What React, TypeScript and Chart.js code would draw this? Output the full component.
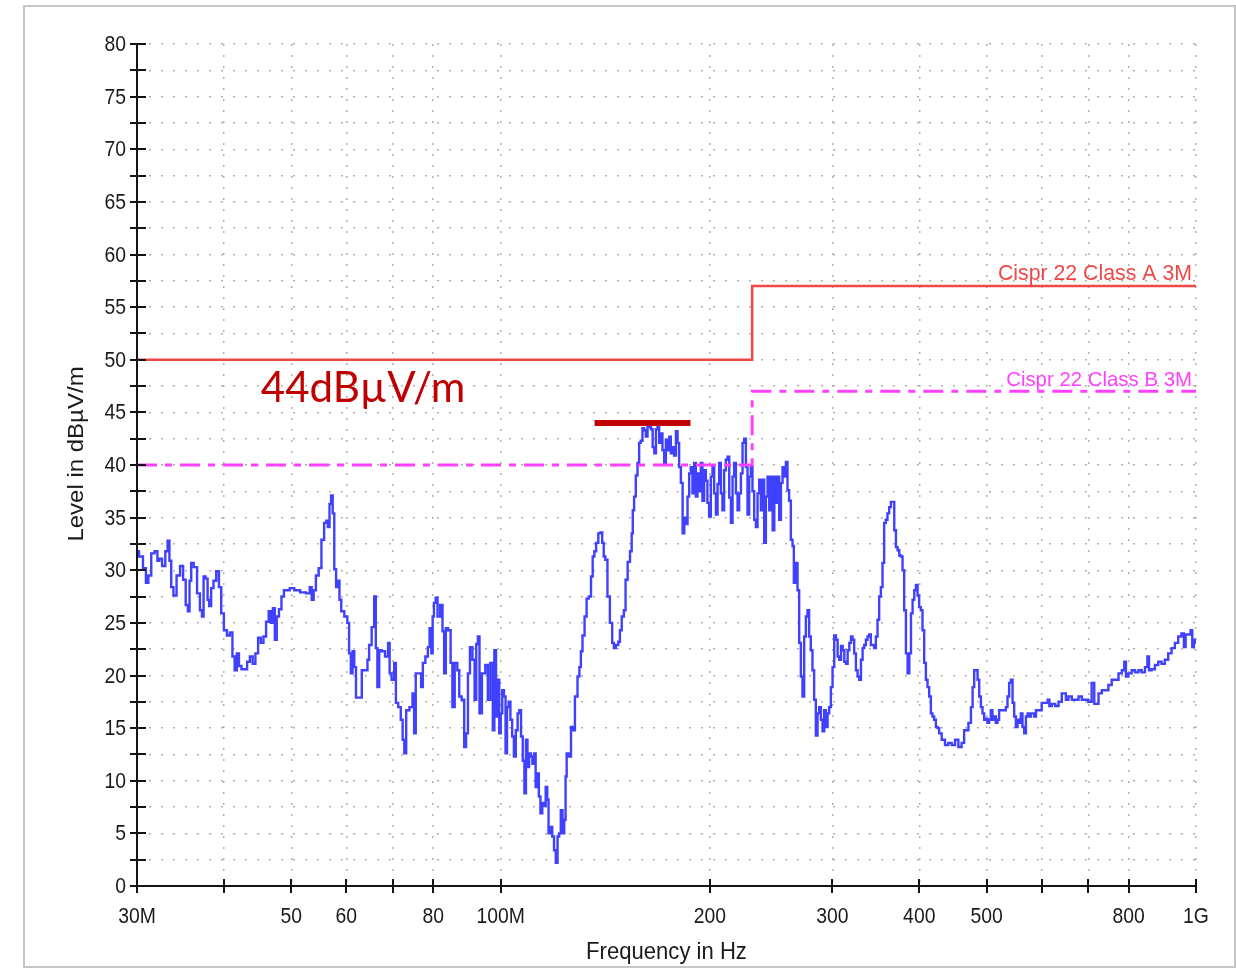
import React, { useEffect, useRef } from 'react';
import { Chart, registerables } from 'chart.js';

Chart.register(...registerables);

// Measured emission trace: frequency in MHz, level in dBµV/m
const TRACE_FREQ_MHZ = [
  30.0, 30.4, 30.8, 31.0, 31.3, 31.6, 32.0, 32.2, 32.4, 32.8,
  33.1, 33.3, 33.5, 33.7, 34.0, 34.4, 34.8, 35.1, 35.4, 35.6,
  35.8, 36.0, 36.4, 36.8, 37.1, 37.3, 37.5, 37.8, 38.0, 38.2,
  38.5, 38.8, 39.2, 39.5, 39.8, 40.2, 40.6, 41.0, 41.3, 41.6,
  41.9, 42.2, 42.6, 43.0, 43.4, 43.8, 44.2, 44.6, 45.0, 45.4,
  45.8, 46.2, 46.6, 46.9, 47.2, 47.5, 47.8, 48.2, 48.6, 49.0,
  49.5, 50.0, 51.0, 52.0, 53.0, 53.3, 53.7, 54.0, 54.5, 55.0,
  55.5, 56.0, 56.3, 56.6, 56.9, 57.2, 57.5, 57.8, 58.2, 58.5,
  58.8, 59.2, 60.0, 60.4, 60.7, 61.1, 61.4, 61.8, 62.1, 62.8,
  63.5, 64.2, 64.5, 64.9, 65.6, 66.0, 66.3, 66.7, 67.1, 67.8,
  68.6, 69.2, 69.3, 70.1, 70.5, 70.9, 71.6, 72.1, 72.5, 72.9,
  73.4, 74.5, 74.9, 75.3, 75.7, 76.6, 77.1, 77.5, 78.4, 78.8,
  79.3, 79.7, 80.0, 80.4, 80.9, 81.4, 82.3, 82.7, 83.2, 83.6,
  84.5, 85.0, 85.5, 86.3, 87.0, 87.4, 88.4, 88.9, 89.5, 90.0,
  90.7, 91.5, 92.0, 92.5, 93.0, 93.5, 94.5, 95.6, 96.1, 97.2,
  97.7, 98.2, 98.8, 99.3, 99.8, 100.3, 100.8, 101.4, 101.9, 102.4,
  103.0, 103.6, 104.2, 104.8, 105.5, 106.1, 106.7, 107.3, 107.9, 108.5,
  109.0, 109.6, 110.2, 110.8, 111.4, 112.0, 112.6, 113.2, 113.8, 114.4,
  115.2, 115.8, 116.4, 117.0, 117.4, 118.3, 119.0, 119.7, 120.4, 121.1,
  121.7, 122.4, 123.1, 123.8, 124.2, 124.7, 125.9, 126.6, 127.3, 128.5,
  129.5, 130.1, 130.8, 131.5, 132.6, 133.3, 134.5, 135.3, 136.0, 136.8,
  137.6, 138.8, 139.6, 140.4, 141.0, 141.9, 143.0, 144.2, 145.2, 145.8,
  147.1, 148.2, 148.7, 150.0, 150.8, 151.7, 152.9, 154.1, 154.6, 155.2,
  156.0, 156.9, 157.8, 158.6, 159.5, 160.4, 161.3, 162.2, 163.1, 164.0,
  165.0, 165.9, 166.8, 167.7, 168.6, 169.5, 170.4, 171.4, 172.4, 173.3,
  174.3, 175.2, 176.2, 177.1, 178.2, 179.2, 180.1, 181.1, 182.2, 183.2,
  184.2, 185.2, 186.2, 187.2, 188.2, 189.3, 190.3, 191.4, 192.4, 193.5,
  194.6, 195.6, 196.8, 197.8, 198.9, 200.0, 201.2, 202.2, 203.4, 204.6,
  205.6, 206.8, 207.9, 209.0, 210.2, 211.4, 212.6, 213.8, 215.0, 216.1,
  217.3, 218.6, 219.7, 221.0, 222.2, 223.4, 224.7, 225.9, 227.1, 228.4,
  229.6, 230.9, 232.2, 233.5, 234.8, 236.1, 237.4, 238.7, 240.0, 241.4,
  242.7, 244.1, 245.5, 246.8, 248.2, 249.5, 250.8, 252.3, 253.7, 255.0,
  256.5, 257.9, 259.2, 260.7, 262.2, 263.6, 264.5, 266.6, 268.0, 269.5,
  271.0, 272.5, 274.0, 275.5, 277.0, 278.5, 280.1, 281.6, 283.2, 284.8,
  286.4, 288.0, 289.6, 291.2, 292.8, 294.5, 296.0, 297.7, 299.3, 301.0,
  302.7, 304.4, 306.1, 307.8, 309.6, 311.2, 313.0, 314.7, 316.4, 318.2,
  319.9, 321.5, 323.4, 325.2, 327.0, 328.8, 330.7, 332.4, 334.3, 336.1,
  337.9, 339.8, 341.7, 343.5, 345.5, 347.4, 349.3, 351.2, 353.2, 355.1,
  357.1, 359.0, 361.0, 363.1, 365.2, 367.2, 369.2, 371.3, 373.3, 375.4,
  377.5, 379.4, 381.6, 383.8, 385.9, 388.1, 390.2, 392.3, 394.5, 396.7,
  398.8, 400.9, 403.2, 405.4, 407.7, 410.0, 412.2, 414.5, 416.8, 419.0,
  421.4, 423.8, 426.1, 428.5, 433.2, 438.0, 442.8, 447.8, 452.8, 457.8,
  462.6, 465.5, 468.1, 473.3, 476.0, 478.5, 481.1, 483.9, 486.4, 489.2,
  491.9, 494.5, 497.3, 500.0, 502.6, 505.5, 508.3, 511.1, 514.0, 516.9,
  519.6, 522.5, 525.4, 528.1, 531.2, 534.3, 537.1, 540.2, 543.3, 546.2,
  549.2, 552.3, 555.3, 558.4, 561.4, 564.5, 567.8, 571.0, 574.2, 577.4,
  580.6, 583.7, 587.1, 590.3, 596.7, 603.2, 610.3, 613.6, 617.1, 623.9,
  630.9, 637.8, 644.6, 648.1, 651.7, 659.1, 666.5, 674.1, 681.5, 688.9,
  696.5, 703.8, 711.9, 716.1, 720.1, 728.1, 736.0, 744.2, 752.1, 760.8,
  769.5, 778.0, 786.4, 790.8, 795.1, 803.8, 812.8, 822.0, 831.0, 840.0,
  849.1, 853.6, 858.3, 868.0, 877.7, 887.3, 897.0, 906.9, 917.2, 927.3,
  937.6, 947.8, 958.0, 963.5, 968.9, 979.6, 985.0, 990.3, 995.8, 1000.0,
];

const TRACE_LEVEL = [
  31.8, 31.3, 30.2, 28.8, 29.5, 31.6, 31.8, 30.9, 31.1, 30.4,
  31.8, 32.8, 30.9, 28.4, 27.6, 29.5, 30.4, 29.1, 26.7, 26.1,
  29.0, 30.7, 30.3, 27.8, 26.2, 25.6, 29.4, 29.2, 27.2, 26.6,
  28.3, 29.0, 29.9, 28.4, 25.9, 24.3, 23.8, 24.1, 21.8, 20.5,
  22.1, 20.9, 20.6, 20.6, 21.3, 21.8, 21.1, 22.1, 23.6, 23.1,
  23.7, 25.1, 26.1, 25.0, 26.4, 23.4, 25.6, 26.3, 27.5, 28.1,
  28.1, 28.3, 28.1, 27.9, 27.8, 28.4, 27.2, 28.1, 29.5, 30.2,
  32.9, 34.5, 34.7, 34.1, 36.3, 37.1, 35.4, 30.1, 28.4, 29.0,
  27.2, 26.1, 25.6, 25.0, 22.1, 20.2, 22.3, 20.8, 17.9, 17.9,
  20.5, 20.5, 21.5, 22.9, 24.6, 27.5, 22.6, 18.9, 22.4, 22.3,
  21.8, 23.1, 20.2, 19.6, 21.2, 17.4, 17.0, 15.8, 13.9, 12.6,
  16.7, 17.0, 18.3, 14.5, 20.2, 20.2, 18.9, 21.2, 21.8, 22.7,
  24.5, 22.1, 25.6, 26.9, 27.4, 25.6, 26.7, 24.2, 20.2, 24.5,
  24.3, 21.2, 17.0, 21.2, 20.5, 18.0, 17.7, 13.2, 14.5, 20.2,
  22.7, 21.5, 17.7, 23.0, 23.7, 16.4, 20.2, 21.0, 17.7, 21.2,
  14.8, 22.4, 16.1, 19.6, 14.5, 16.4, 18.6, 18.0, 12.6, 17.0,
  17.5, 15.8, 14.2, 12.3, 14.8, 16.4, 16.7, 14.2, 11.9, 8.8,
  13.9, 11.3, 12.6, 12.3, 11.6, 12.6, 9.4, 10.7, 8.5, 6.9,
  7.9, 7.6, 9.4, 8.2, 5.0, 5.6, 4.7, 3.4, 2.2, 4.7,
  5.0, 7.2, 5.0, 6.3, 10.4, 12.6, 12.3, 15.1, 14.8, 18.0,
  19.9, 20.8, 22.3, 23.8, 25.6, 27.3, 27.5, 29.4, 31.3, 31.8,
  32.6, 33.5, 33.6, 32.6, 31.3, 31.0, 27.5, 25.0, 23.1, 22.6,
  22.9, 23.2, 24.3, 25.6, 26.2, 29.1, 30.8, 31.8, 33.5, 35.7,
  37.0, 39.0, 40.2, 42.1, 42.3, 43.5, 43.3, 42.7, 43.6, 44.0,
  43.4, 41.7, 41.1, 43.4, 43.8, 42.1, 43.0, 41.4, 40.2, 42.4,
  41.4, 42.7, 41.1, 41.7, 40.9, 43.2, 42.1, 39.8, 38.3, 33.5,
  35.0, 34.4, 37.0, 39.2, 39.8, 37.3, 40.2, 37.0, 39.2, 37.5,
  40.2, 36.6, 39.5, 38.5, 36.4, 35.1, 38.9, 39.8, 37.3, 35.3,
  38.2, 40.2, 37.3, 35.7, 39.5, 40.5, 40.8, 36.9, 34.5, 38.9,
  40.2, 37.3, 35.7, 37.3, 39.2, 42.1, 42.5, 39.8, 35.3, 38.9,
  39.8, 37.5, 34.8, 34.1, 37.3, 38.6, 35.7, 38.6, 32.6, 37.0,
  38.9, 35.7, 38.9, 33.8, 38.9, 36.4, 38.9, 34.8, 38.3, 39.8,
  38.9, 40.3, 37.6, 36.6, 32.9, 32.3, 28.8, 30.7, 28.1, 23.1,
  19.9, 18.0, 23.7, 25.6, 26.2, 23.7, 22.4, 20.5, 17.7, 14.3,
  16.4, 17.0, 15.8, 14.7, 16.7, 15.1, 16.4, 17.0, 18.9, 20.8,
  23.8, 23.4, 21.8, 21.5, 22.8, 22.4, 21.3, 21.1, 22.4, 23.1,
  23.7, 23.4, 22.1, 20.5, 19.9, 19.6, 21.5, 22.6, 22.9, 23.4,
  23.7, 23.9, 22.9, 22.9, 22.6, 23.7, 25.3, 27.5, 28.4, 30.7,
  34.5, 34.8, 35.4, 36.0, 36.5, 36.5, 33.8, 32.2, 31.9, 31.4,
  31.3, 30.0, 26.2, 22.1, 20.2, 22.1, 25.9, 27.2, 28.1, 28.6,
  27.6, 26.5, 26.2, 24.3, 21.2, 19.6, 18.9, 18.0, 16.4, 16.1,
  15.8, 15.1, 15.0, 14.5, 13.9, 13.4, 13.6, 13.4, 13.9, 13.2,
  13.6, 14.8, 14.8, 15.5, 17.0, 18.9, 20.5, 20.5, 19.6, 18.0,
  17.0, 16.4, 15.8, 15.9, 15.5, 15.8, 16.7, 15.8, 16.1, 15.5,
  15.8, 16.7, 16.7, 16.7, 16.7, 17.0, 18.0, 19.3, 19.6, 17.4,
  16.1, 15.1, 15.8, 15.5, 16.4, 15.1, 14.5, 16.1, 16.4, 16.1,
  16.4, 16.4, 16.1, 16.7, 16.7, 17.4, 17.4, 17.7, 17.1, 17.3,
  17.1, 17.5, 18.3, 18.3, 17.7, 18.0, 17.7, 17.7, 18.0, 17.7,
  17.7, 17.5, 19.3, 17.3, 17.3, 18.3, 18.6, 18.6, 19.1, 19.6,
  19.6, 20.2, 20.5, 21.3, 19.9, 20.2, 20.5, 20.3, 20.5, 20.3,
  20.8, 21.8, 20.5, 20.6, 21.0, 21.3, 21.1, 21.5, 22.1, 22.6,
  23.1, 23.7, 24.0, 22.7, 23.9, 23.9, 24.3, 22.7, 23.4, 23.1,
];

// CISPR 22 radiated emission limits at 3 m
const CLASS_A_FREQ = [30, 230, 230, 1000];
const CLASS_A_LEVEL = [50, 50, 57, 57];
const CLASS_A_NAME = 'Cispr 22 Class A 3M';
const CLASS_B_FREQ = [30, 230, 230, 1000];
const CLASS_B_LEVEL = [40, 40, 47, 47];
const CLASS_B_NAME = 'Cispr 22 Class B 3M';

// Peak marker and its note
const MARKER_FREQ = [136.5, 187.5];
const MARKER_LEVEL = [44, 44];
const MARKER_TEXT = '44dBµV/m';
const MARKER_TEXT_FREQ = 45.2;
const MARKER_TEXT_LEVEL = 46;

// Axes
const X_MIN = 30;
const X_MAX = 1000;
const X_TICKS = [30, 40, 50, 60, 70, 80, 100, 200, 300, 400, 500, 600, 700, 800, 1000];
const X_TICK_LABELS = ['30M', '', '50', '60', '', '80', '100M', '200', '300', '400', '500', '', '', '800', '1G'];
const Y_MIN = 0;
const Y_MAX = 80;
const Y_STEP = 2.5;
const Y_LABEL_STEP = 5;
const X_TITLE = 'Frequency in Hz';
const Y_TITLE = 'Level in dBµV/m';

const TEXT_FAMILY = '"Liberation Sans", Arial, sans-serif';

function toPoints(xs: number[], ys: number[]) {
  return xs.map((x, i) => ({ x, y: ys[i] }));
}

function drawText(
  ctx: CanvasRenderingContext2D,
  text: string,
  x: number,
  y: number,
  align: CanvasTextAlign,
  baseline: CanvasTextBaseline,
  sx: number,
  rotate = 0,
) {
  ctx.save();
  ctx.translate(x, y);
  if (rotate) ctx.rotate(rotate);
  ctx.scale(rotate ? 1 : sx, rotate ? sx : 1);
  ctx.textAlign = align;
  ctx.textBaseline = baseline;
  ctx.fillText(text, 0, 0);
  ctx.restore();
}

const framePlugin = {
  id: 'emcFrame',
  beforeDraw(chart: any) {
    const { ctx, width, height } = chart;
    ctx.save();
    ctx.fillStyle = '#ffffff';
    ctx.fillRect(0, 0, width, height);
    ctx.strokeStyle = '#c6c6c6';
    ctx.lineWidth = 2;
    ctx.strokeRect(24, 6, width - 25, height - 8);
    ctx.restore();
  },
  afterDraw(chart: any) {
    const { ctx, chartArea, scales } = chart;
    const xs = scales.x;
    const ys = scales.y;
    const { left, right, top, bottom } = chartArea;

    ctx.save();
    // axis lines and tick marks
    ctx.strokeStyle = '#141414';
    ctx.lineWidth = 2;
    ctx.beginPath();
    ctx.moveTo(left, top);
    ctx.lineTo(left, bottom);
    ctx.lineTo(right, bottom);
    for (let v = Y_MIN; v <= Y_MAX + 1e-6; v += Y_STEP) {
      const y = Math.round(ys.getPixelForValue(v));
      ctx.moveTo(left - 7, y);
      ctx.lineTo(left + 9, y);
    }
    X_TICKS.forEach((f) => {
      const x = Math.round(xs.getPixelForValue(f));
      ctx.moveTo(x, bottom - 7);
      ctx.lineTo(x, bottom + 7);
    });
    ctx.stroke();

    // tick labels
    ctx.fillStyle = '#1a1a1a';
    ctx.font = `22px ${TEXT_FAMILY}`;
    for (let v = Y_MIN; v <= Y_MAX + 1e-6; v += Y_LABEL_STEP) {
      drawText(ctx, String(v), left - 11, ys.getPixelForValue(v) + 1, 'right', 'middle', 0.88);
    }
    X_TICKS.forEach((f, i) => {
      const label = X_TICK_LABELS[i];
      if (label) drawText(ctx, label, xs.getPixelForValue(f), bottom + 31, 'center', 'middle', 0.88);
    });

    // axis titles
    ctx.font = `24px ${TEXT_FAMILY}`;
    drawText(ctx, X_TITLE, (left + right) / 2, bottom + 66, 'center', 'middle', 0.92);
    drawText(ctx, Y_TITLE, 83, 454, 'center', 'alphabetic', 0.9, -Math.PI / 2);

    // limit line names
    ctx.fillStyle = '#f04848';
    ctx.font = `21.3px ${TEXT_FAMILY}`;
    drawText(ctx, CLASS_A_NAME, xs.getPixelForValue(X_MAX) - 4, ys.getPixelForValue(57) - 6, 'right', 'alphabetic', 1);
    ctx.fillStyle = '#ff40ff';
    ctx.font = `20.4px ${TEXT_FAMILY}`;
    drawText(ctx, CLASS_B_NAME, xs.getPixelForValue(X_MAX) - 4, ys.getPixelForValue(47) - 5, 'right', 'alphabetic', 1);

    // marker note
    ctx.font = '42px Lato, "Open Sans", sans-serif';
    ctx.fillStyle = '#c00000';
    drawText(
      ctx,
      MARKER_TEXT,
      xs.getPixelForValue(MARKER_TEXT_FREQ),
      ys.getPixelForValue(MARKER_TEXT_LEVEL),
      'left',
      'alphabetic',
      1,
    );
    ctx.restore();
  },
};

export default function App() {
  const canvasRef = useRef<HTMLCanvasElement>(null);

  useEffect(() => {
    const canvas = canvasRef.current;
    if (!canvas) return;
    const gridColor = '#b0b0b0';
    const chart = new Chart(canvas, {
      type: 'line',
      data: {
        datasets: [
          {
            label: 'marker',
            data: toPoints(MARKER_FREQ, MARKER_LEVEL),
            borderColor: '#c00000',
            borderWidth: 6,
            borderCapStyle: 'butt',
            pointRadius: 0,
          },
          {
            label: CLASS_A_NAME,
            data: toPoints(CLASS_A_FREQ, CLASS_A_LEVEL),
            borderColor: '#f04646',
            borderWidth: 2.5,
            pointRadius: 0,
            borderJoinStyle: 'miter',
          },
          {
            label: CLASS_B_NAME,
            data: toPoints(CLASS_B_FREQ, CLASS_B_LEVEL),
            borderColor: '#ff40ff',
            borderWidth: 3,
            borderDash: [20, 8, 7, 8],
            pointRadius: 0,
            borderJoinStyle: 'miter',
          },
          {
            label: 'Level',
            data: toPoints(TRACE_FREQ_MHZ, TRACE_LEVEL),
            borderColor: '#4040ff',
            borderWidth: 2.4,
            pointRadius: 0,
            stepped: 'middle',
          },
        ],
      },
      options: {
        animation: false,
        responsive: false,
        maintainAspectRatio: false,
        devicePixelRatio: 1,
        layout: { padding: { left: 137, right: 40, top: 44, bottom: 83 } },
        plugins: { legend: { display: false }, tooltip: { enabled: false } },
        scales: {
          x: {
            type: 'logarithmic',
            min: X_MIN,
            max: X_MAX,
            afterBuildTicks: (s: any) => {
              s.ticks = X_TICKS.map((value) => ({ value }));
            },
            afterFit: (s: any) => {
              s.height = 0;
            },
            ticks: { display: false },
            grid: { color: gridColor, lineWidth: 1.5, drawTicks: false },
            border: { display: false, dash: [2, 9] },
          },
          y: {
            type: 'linear',
            min: Y_MIN,
            max: Y_MAX,
            afterFit: (s: any) => {
              s.width = 0;
            },
            ticks: { display: false, stepSize: Y_STEP },
            grid: { color: gridColor, lineWidth: 1.5, drawTicks: false },
            border: { display: false, dash: [2, 10] },
          },
        },
      },
      plugins: [framePlugin],
    } as any);
    return () => chart.destroy();
  }, []);

  return (
    <div style={{ position: 'fixed', left: 0, top: 0, width: 1236, height: 969, background: '#fff' }}>
      <canvas ref={canvasRef} width={1236} height={969} style={{ display: 'block' }} />
    </div>
  );
}
